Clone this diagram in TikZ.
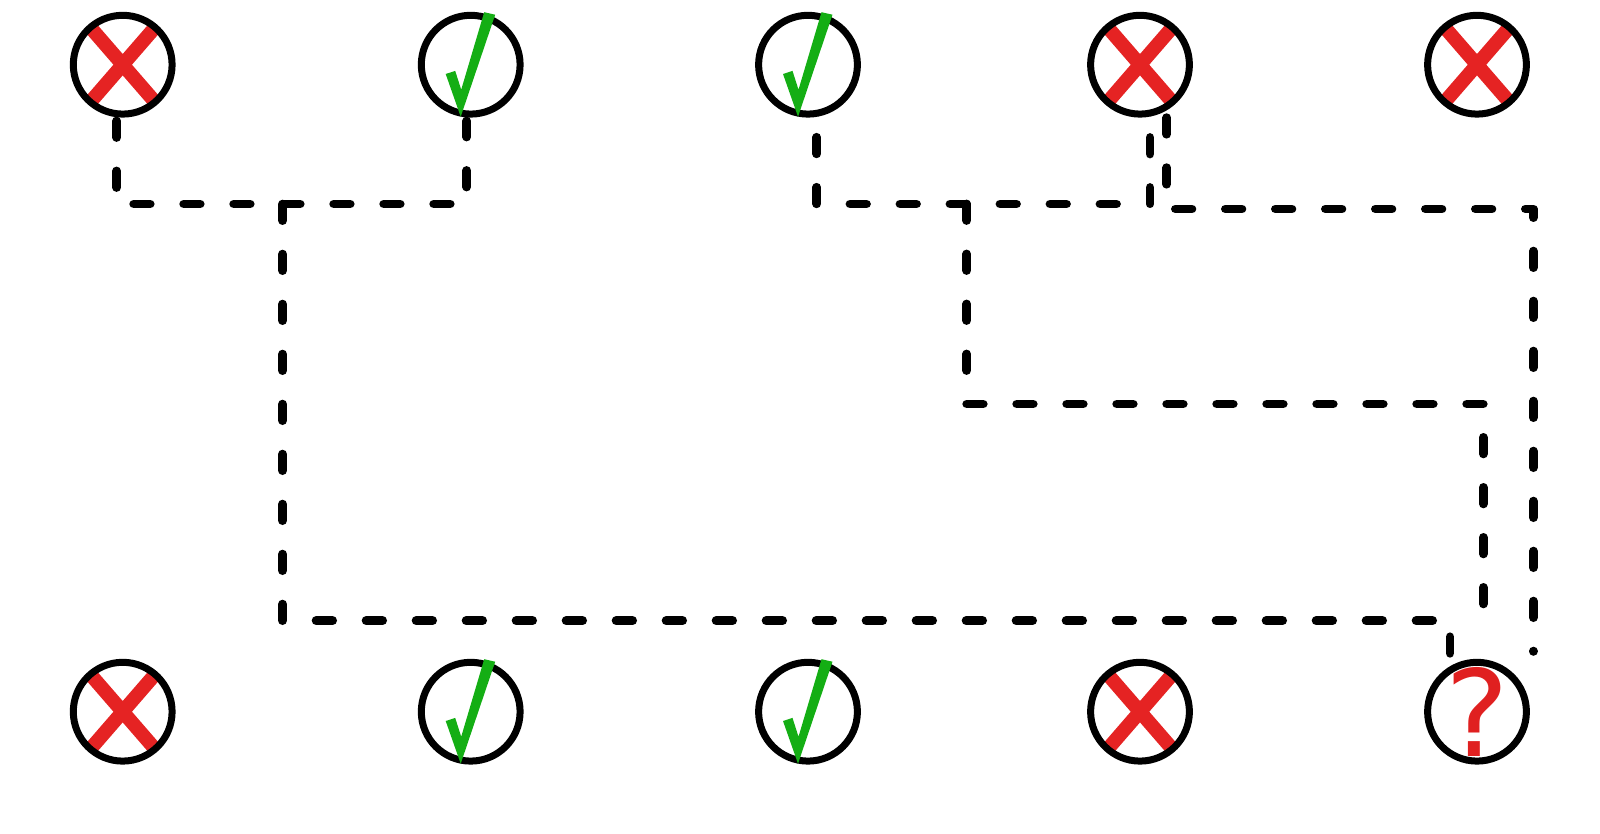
\documentclass[tikz,border=0pt]{standalone}
\usepackage{fontspec}
\setmainfont{DejaVu Sans}
\definecolor{xred}{HTML}{E52323}
\definecolor{qred}{HTML}{E02020}
\definecolor{tgreen}{HTML}{14AE14}
\tikzset{
  ring/.style={circle,draw=black,line width=3.5pt,minimum size=49.4pt,inner sep=0pt,outer sep=0pt},
  link/.style={draw=black,line width=4.4pt,line cap=round,line join=round,dash pattern=on 8.25pt off 16.75pt},
  crossmark/.pic={\draw[xred,line width=7pt] (-32.5,-37.5) -- (32.5,37.5) (-32.5,37.5) -- (32.5,-37.5);},
  tickmark/.pic={\fill[tgreen] (-25,9.3) -- (-15.5,6.2) -- (-9.5,25) -- (13.5,-52.5) -- (24.5,-50) -- (-10,52) -- cycle;}
}
\begin{document}
\begin{tikzpicture}[x=0.5pt,y=-0.5pt]
\useasboundingbox (0,0) rectangle (1600,834);
% red crosses sit under their rings
\pic at (122.7,64.7) {crossmark};
\pic at (1140,64.7) {crossmark};
\pic at (1477,64.7) {crossmark};
\pic at (122.7,711.7) {crossmark};
\pic at (1140,711.7) {crossmark};
% rings
\node[ring] (t1) at (122.7,64.7) {};
\node[ring] (t2) at (470.7,64.7) {};
\node[ring] (t3) at (808,64.7) {};
\node[ring] (t4) at (1140,64.7) {};
\node[ring] (t5) at (1477,64.7) {};
\node[ring] (b1) at (122.7,711.7) {};
\node[ring] (b2) at (470.7,711.7) {};
\node[ring] (b3) at (808,711.7) {};
\node[ring] (b4) at (1140,711.7) {};
\node[ring] (b5) at (1477,711.7) {};
% green ticks lie over their rings
\pic at (470.7,64.7) {tickmark};
\pic at (808,64.7) {tickmark};
\pic at (470.7,711.7) {tickmark};
\pic at (808,711.7) {tickmark};
\node[anchor=base,inner sep=0pt,text=qred,font=\fontsize{60}{60}\selectfont] (qm) at (1477.5,756.5) {?};
% connector ends and bends
\coordinate (a0) at (116.7,121);
\coordinate (a1) at (116.7,204);
\coordinate (a2) at (466.7,204);
\coordinate (a3) at (466.7,121);
\coordinate (c0) at (1450,653.3);
\coordinate (c1) at (1450,620.7);
\coordinate (c2) at (282.7,620.7);
\coordinate (c3) at (282.7,204);
\coordinate (d0) at (816.7,137.3);
\coordinate (d1) at (816.7,204);
\coordinate (d2) at (1150,204);
\coordinate (d3) at (1150,136.7);
\coordinate (e0) at (966.7,204);
\coordinate (e1) at (966.7,404);
\coordinate (e2) at (1483.3,404);
\coordinate (e3) at (1483.3,606.7);
\coordinate (f0) at (1166.7,117.7);
\coordinate (f1) at (1166.7,209);
\coordinate (f2) at (1533.3,209);
\coordinate (f3) at (1533.3,651.4);
% connectors
\draw[link] (a0) -- (a1) -- (a2) -- (a3);
\draw[link] (c0) -- (c1) -- (c2) -- (c3);
\draw[link] (d0) -- (d1) -- (d2) -- (d3);
\draw[link] (e0) -- (e1) -- (e2) -- (e3);
\draw[link] (f0) -- (f1) -- (f2) -- (f3);
\end{tikzpicture}
\end{document}
